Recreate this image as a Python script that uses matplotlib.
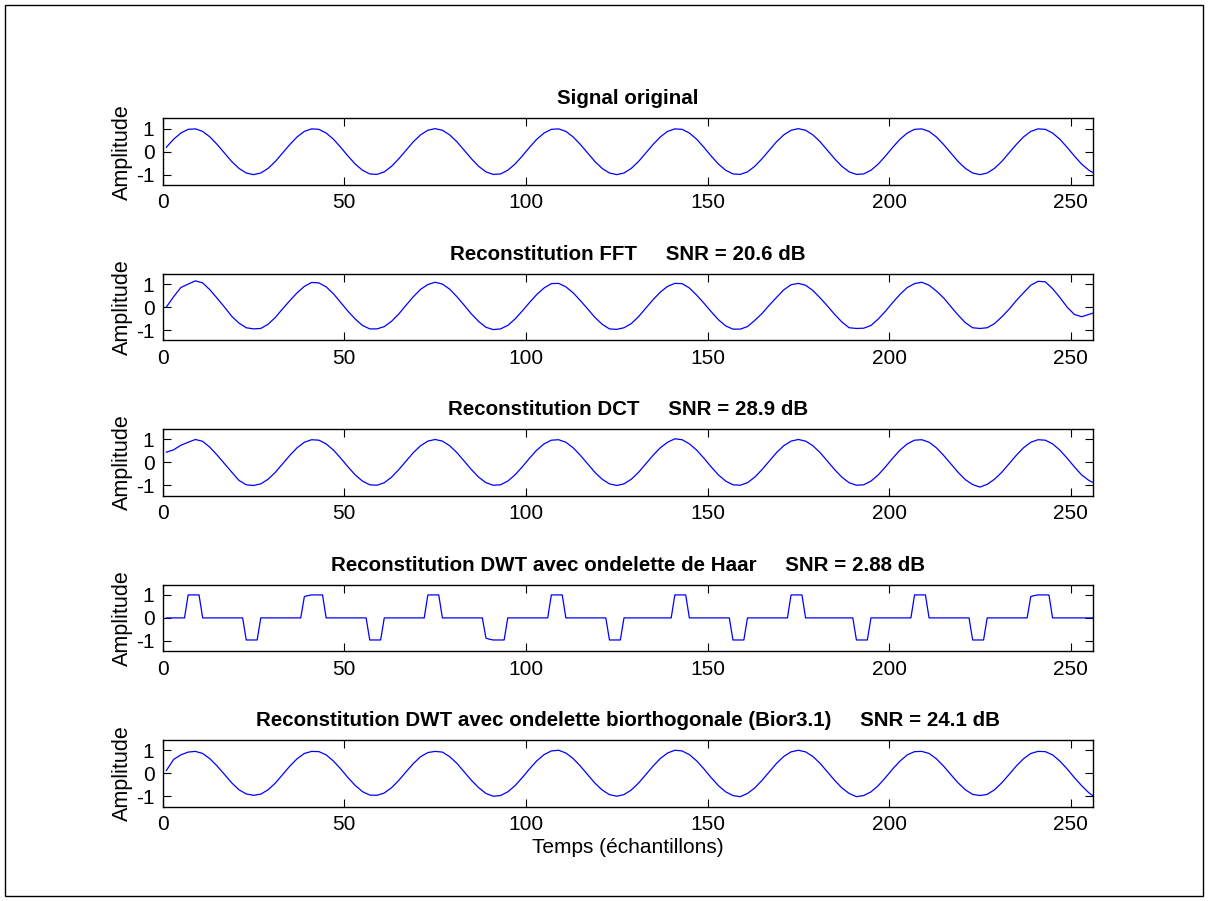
import matplotlib
matplotlib.use("Agg")
import matplotlib.pyplot as plt
from matplotlib.patches import Rectangle

plt.rcParams['font.family'] = ['Liberation Sans', 'DejaVu Sans']
plt.rcParams['axes.unicode_minus'] = False

# sample index of the read-off points (every 2nd sample + last one)
n = list(range(1, 256, 2)) + [256]

orig = [0.19, 0.54, 0.81, 0.97, 0.99, 0.88, 0.64, 0.31, -0.06, -0.43,
        -0.73, -0.93, -1.00, -0.93, -0.73, -0.43, -0.06, 0.31, 0.64, 0.88,
        0.99, 0.97, 0.81, 0.54, 0.19, -0.19, -0.54, -0.81, -0.97, -0.99,
        -0.88, -0.64, -0.31, 0.06, 0.43, 0.73, 0.93, 1.00, 0.93, 0.73,
        0.43, 0.06, -0.31, -0.64, -0.88, -0.99, -0.97, -0.81, -0.54, -0.19,
        0.19, 0.54, 0.81, 0.97, 0.99, 0.88, 0.64, 0.31, -0.06, -0.43,
        -0.73, -0.93, -1.00, -0.93, -0.73, -0.43, -0.06, 0.31, 0.64, 0.88,
        0.99, 0.97, 0.81, 0.54, 0.19, -0.19, -0.54, -0.81, -0.97, -0.99,
        -0.88, -0.64, -0.31, 0.06, 0.43, 0.73, 0.93, 1.00, 0.93, 0.73,
        0.43, 0.06, -0.31, -0.64, -0.88, -0.99, -0.97, -0.81, -0.54, -0.19,
        0.19, 0.54, 0.81, 0.97, 0.99, 0.88, 0.64, 0.31, -0.06, -0.43,
        -0.73, -0.93, -1.00, -0.93, -0.73, -0.43, -0.06, 0.31, 0.64, 0.88,
        0.99, 0.97, 0.81, 0.54, 0.19, -0.19, -0.54, -0.81,
        -0.90]

fft = [0.00, 0.45, 0.85, 1.00, 1.14, 1.05, 0.75, 0.38, 0.00, -0.40,
       -0.70, -0.90, -0.95, -0.93, -0.75, -0.45, -0.08, 0.28, 0.62, 0.90,
       1.07, 1.05, 0.88, 0.58, 0.20, -0.18, -0.52, -0.80, -0.95, -0.95,
       -0.85, -0.62, -0.30, 0.08, 0.45, 0.77, 0.98, 1.08, 1.00, 0.78,
       0.45, 0.08, -0.30, -0.63, -0.88, -0.98, -0.95, -0.80, -0.52, -0.17,
       0.20, 0.55, 0.83, 1.02, 1.03, 0.88, 0.62, 0.28, -0.08, -0.45,
       -0.75, -0.95, -0.97, -0.90, -0.72, -0.42, -0.05, 0.32, 0.65, 0.90,
       1.03, 1.02, 0.83, 0.52, 0.17, -0.20, -0.55, -0.82, -0.96, -0.96,
       -0.85, -0.58, -0.28, 0.08, 0.42, 0.75, 0.97, 1.03, 0.95, 0.72,
       0.40, 0.05, -0.32, -0.65, -0.90, -0.93, -0.92, -0.80, -0.52, -0.18,
       0.20, 0.55, 0.85, 1.02, 1.08, 0.95, 0.70, 0.40, 0.02, -0.35,
       -0.68, -0.90, -0.93, -0.90, -0.72, -0.43, -0.10, 0.28, 0.62, 0.95,
       1.12, 1.10, 0.80, 0.42, 0.00, -0.32, -0.42, -0.32,
       -0.27]

dct = [0.45, 0.55, 0.75, 0.88, 1.00, 0.92, 0.66, 0.32, -0.05, -0.42,
       -0.78, -0.97, -1.00, -0.93, -0.73, -0.43, -0.06, 0.31, 0.64, 0.88,
       0.99, 0.97, 0.81, 0.54, 0.19, -0.19, -0.54, -0.81, -0.97, -0.99,
       -0.88, -0.64, -0.31, 0.06, 0.43, 0.73, 0.93, 1.00, 0.93, 0.73,
       0.43, 0.06, -0.31, -0.64, -0.88, -0.99, -0.97, -0.81, -0.54, -0.19,
       0.19, 0.54, 0.81, 0.97, 0.99, 0.88, 0.64, 0.31, -0.06, -0.43,
       -0.73, -0.93, -1.00, -0.93, -0.73, -0.43, -0.06, 0.31, 0.64, 0.88,
       1.03, 0.99, 0.81, 0.54, 0.19, -0.19, -0.54, -0.81, -0.97, -0.99,
       -0.88, -0.64, -0.31, 0.06, 0.43, 0.73, 0.93, 1.00, 0.93, 0.73,
       0.43, 0.06, -0.31, -0.64, -0.88, -0.99, -0.97, -0.81, -0.54, -0.19,
       0.19, 0.54, 0.81, 0.97, 0.99, 0.88, 0.64, 0.31, -0.06, -0.43,
       -0.75, -0.96, -1.07, -0.95, -0.73, -0.43, -0.06, 0.31, 0.64, 0.88,
       0.99, 0.97, 0.81, 0.54, 0.19, -0.19, -0.54, -0.78,
       -0.86]

bior = [0.12, 0.60, 0.80, 0.92, 0.95, 0.86, 0.63, 0.31, -0.05, -0.42,
        -0.72, -0.90, -0.96, -0.91, -0.72, -0.43, -0.06, 0.31, 0.63, 0.86,
        0.95, 0.94, 0.80, 0.53, 0.19, -0.19, -0.53, -0.80, -0.95, -0.96,
        -0.86, -0.63, -0.31, 0.06, 0.42, 0.72, 0.90, 0.95, 0.92, 0.72,
        0.43, 0.06, -0.31, -0.63, -0.88, -1.00, -0.97, -0.81, -0.54, -0.19,
        0.19, 0.54, 0.81, 0.97, 1.00, 0.88, 0.64, 0.31, -0.06, -0.43,
        -0.73, -0.93, -1.00, -0.93, -0.73, -0.43, -0.06, 0.31, 0.64, 0.88,
        1.00, 0.97, 0.81, 0.54, 0.19, -0.19, -0.54, -0.81, -0.97, -1.02,
        -0.88, -0.64, -0.31, 0.06, 0.43, 0.73, 0.93, 1.00, 0.93, 0.73,
        0.43, 0.06, -0.31, -0.64, -0.88, -1.02, -0.97, -0.81, -0.54, -0.19,
        0.19, 0.53, 0.80, 0.94, 0.95, 0.86, 0.63, 0.31, -0.06, -0.42,
        -0.72, -0.92, -0.97, -0.92, -0.72, -0.42, -0.06, 0.31, 0.63, 0.86,
        0.95, 0.94, 0.80, 0.53, 0.19, -0.19, -0.54, -0.85,
        -0.97]

# Haar reconstruction: breakpoints (sample, amplitude)
haar_x = [1, 6, 7, 10, 11, 22, 23, 26, 27, 38, 39, 40, 41, 44, 45, 56, 57, 60, 61,
          72, 73, 76, 77, 88, 89, 90, 91, 94, 95, 106, 107, 110, 111, 122, 123, 126, 127,
          140, 141, 144, 145, 156, 157, 160, 161, 172, 173, 176, 177, 190, 191, 194, 195,
          206, 207, 210, 211, 222, 223, 226, 227, 238, 239, 240, 241, 244, 245, 256]
haar_y = [0, 0, 1, 1, 0, 0, -0.96, -0.96, 0, 0, 0.93, 0.97, 1, 1, 0, 0, -0.96, -0.96, 0,
          0, 1, 1, 0, 0, -0.88, -0.93, -0.96, -0.96, 0, 0, 1, 1, 0, 0, -0.96, -0.96, 0,
          0, 1, 1, 0, 0, -0.96, -0.96, 0, 0, 1, 1, 0, 0, -0.96, -0.96, 0,
          0, 1, 1, 0, 0, -0.96, -0.96, 0, 0, 0.93, 0.97, 1, 1, 0, 0]

titles = ['Signal original',
          'Reconstitution FFT     SNR = 20.6 dB',
          'Reconstitution DCT     SNR = 28.9 dB',
          'Reconstitution DWT avec ondelette de Haar     SNR = 2.88 dB',
          'Reconstitution DWT avec ondelette biorthogonale (Bior3.1)     SNR = 24.1 dB']
series = [(n, orig), (n, fft), (n, dct), (haar_x, haar_y), (n, bior)]

fig = plt.figure(figsize=(12.08, 9.01), dpi=100)
fig.patches.append(Rectangle((0.0041, 0.0055), 0.9917, 0.9889, transform=fig.transFigure,
                             fill=False, edgecolor='black', linewidth=1.0))

bottoms = [0.7947, 0.6222, 0.4497, 0.2772, 0.1048]
for i in range(5):
    ax = fig.add_axes([0.1347, bottoms[i], 0.7697, 0.0740])
    x, y = series[i]
    ax.plot(x, y, color='#0000ff', linewidth=0.9)
    ax.set_xlim(0, 256)
    ax.set_ylim(-1.45, 1.45)
    ax.set_xticks([0, 50, 100, 150, 200, 250])
    ax.set_yticks([-1, 0, 1])
    ax.tick_params(direction='in', top=True, right=True, length=6, width=0.8,
                   labelsize=15, pad=6)
    for s in ax.spines.values():
        s.set_linewidth(1.0)
    ax.set_ylabel('Amplitude', fontsize=15.5, labelpad=2)
    ax.set_title(titles[i], fontsize=14.8, fontweight='bold', pad=10)
    if i == 4:
        ax.set_xlabel('Temps (échantillons)', fontsize=15, labelpad=3)

fig.savefig('out.png', dpi=100)
